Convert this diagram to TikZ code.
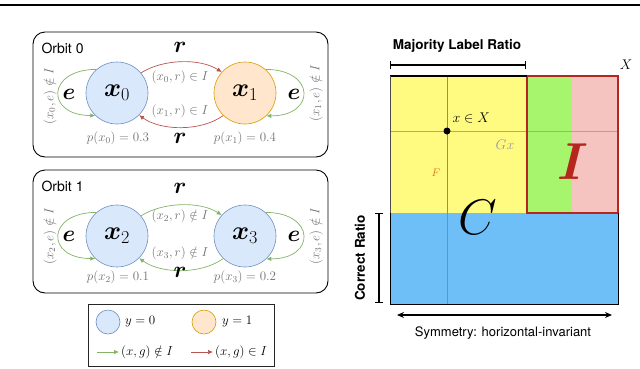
\RequirePackage{fix-cm}
\documentclass[tikz,border=0pt]{standalone}
\usepackage{amsmath}
\usepackage{fontspec}
\newfontfamily\helv{TeX Gyre Heros}
\usetikzlibrary{arrows.meta}

\definecolor{fillzero}{HTML}{DAE8FC}
\definecolor{drawzero}{HTML}{6C8EBF}
\definecolor{fillone}{HTML}{FFE6CC}
\definecolor{drawone}{HTML}{D79B00}
\definecolor{outgreen}{HTML}{82B366}
\definecolor{inred}{HTML}{B85450}
\definecolor{txtgray}{HTML}{707070}
\definecolor{regyellow}{HTML}{FFFA80}
\definecolor{reggreen}{HTML}{A6F56C}
\definecolor{regpink}{HTML}{F5C3C0}
\definecolor{regblue}{HTML}{6EBEF8}
\definecolor{regred}{HTML}{B5261E}
\definecolor{lineorange}{HTML}{E0761A}

\newcommand{\fsz}[1]{\fontsize{#1}{#1}\selectfont}

\tikzset{
  state/.style={circle, minimum size=62pt, inner sep=0pt, line width=0.6pt, font=\fsz{26}},
  yzero/.style={state, fill=fillzero, draw=drawzero},
  yone/.style={state, fill=fillone, draw=drawone},
  notin/.style={draw=outgreen, line width=0.7pt, -{Latex[length=5pt,width=4.5pt]}},
  isin/.style={draw=inred, line width=0.7pt, -{Latex[length=5pt,width=4.5pt]}},
  edgelbl/.style={text=txtgray, font=\fsz{13}, inner sep=1pt},
  biglbl/.style={font=\fsz{23}, inner sep=0pt},
  orbitbox/.style={rounded corners=12pt, line width=0.9pt},
  sidelbl/.style={font=\helv\bfseries\fsz{13.5}},
  bar/.style={line width=1.1pt, {Bar[width=8pt]}-{Bar[width=8pt]}}
}

\begin{document}
\begin{tikzpicture}[x=1pt,y=-1pt]
\useasboundingbox (0,0) rectangle (640,368);
\draw[line width=2pt] (0,5) -- (640,5);

% orbit 0
\draw[orbitbox] (33,32) rectangle (328,157);
\node[anchor=west, font=\helv\fsz{14}] (orb0) at (38,48) {Orbit 0};
\node[yzero] (x0) at (117,93) {$\boldsymbol{x}_0$};
\node[yone] (x1) at (245,93) {$\boldsymbol{x}_1$};
\draw[notin] (x0.131) .. controls +(-50,0) and +(-50,0) .. (x0.226);
\draw[notin] (x1.49) .. controls +(50,0) and +(50,0) .. (x1.313);
\draw[isin] (x0.40) .. controls +(22,-14) and +(-22,-14) .. (x1.138);
\draw[isin] (x1.226) .. controls +(-22,16) and +(22,16) .. (x0.315);
\node[biglbl] (e0) at (69,94) {$\boldsymbol{e}$};
\node[biglbl] (e1) at (294,94) {$\boldsymbol{e}$};
\node[biglbl] (r01) at (180,47) {$\boldsymbol{r}$};
\node[biglbl] (r10) at (180,138) {$\boldsymbol{r}$};
\node[edgelbl, rotate=90] (l00) at (50,96) {$(x_0,e)\notin I$};
\node[edgelbl, rotate=90] (l11) at (316,93) {$(x_1,e)\notin I$};
\node[edgelbl] (l01) at (180,77) {$(x_0,r)\in I$};
\node[edgelbl] (l10) at (180,111) {$(x_1,r)\in I$};
\node[edgelbl] (p0) at (118,138) {$p(x_0)=0.3$};
\node[edgelbl] (p1) at (245,138) {$p(x_1)=0.4$};

% orbit 1
\draw[orbitbox] (33,170) rectangle (328,293);
\node[anchor=west, font=\helv\fsz{14}] (orb1) at (38,186) {Orbit 1};
\node[yzero] (x2) at (117,236) {$\boldsymbol{x}_2$};
\node[yzero] (x3) at (245,236) {$\boldsymbol{x}_3$};
\draw[notin] (x2.131) .. controls +(-50,0) and +(-50,0) .. (x2.226);
\draw[notin] (x3.49) .. controls +(50,0) and +(50,0) .. (x3.313);
\draw[notin] (x2.40) .. controls +(22,-14) and +(-22,-14) .. (x3.138);
\draw[notin] (x3.226) .. controls +(-22,16) and +(22,16) .. (x2.315);
\node[biglbl] (e2) at (69,236) {$\boldsymbol{e}$};
\node[biglbl] (e3) at (294,236) {$\boldsymbol{e}$};
\node[biglbl] (r23) at (180,188) {$\boldsymbol{r}$};
\node[biglbl] (r32) at (180,272) {$\boldsymbol{r}$};
\node[edgelbl, rotate=90] (l22) at (50,236) {$(x_2,e)\notin I$};
\node[edgelbl, rotate=90] (l33) at (316,236) {$(x_3,e)\notin I$};
\node[edgelbl] (l23) at (180,216) {$(x_2,r)\notin I$};
\node[edgelbl] (l32) at (180,253) {$(x_3,r)\notin I$};
\node[edgelbl] (p2) at (118,277) {$p(x_2)=0.1$};
\node[edgelbl] (p3) at (245,277) {$p(x_3)=0.2$};

% legend
\draw[line width=0.9pt, black!85] (88,304) rectangle (274,366);
\node[yzero, minimum size=24pt] (lg0) at (108,322) {};
\node[anchor=west, font=\fsz{13}, inner sep=0pt] (lgt0) at (125,322) {$y=0$};
\node[yone, minimum size=24pt] (lg1) at (204,322) {};
\node[anchor=west, font=\fsz{13}, inner sep=0pt] (lgt1) at (222,322) {$y=1$};
\coordinate (ga) at (97,352);
\coordinate (gb) at (119,352);
\coordinate (ra) at (191,352);
\coordinate (rb) at (213,352);
\draw[notin] (ga) -- (gb);
\draw[isin] (ra) -- (rb);
\node[anchor=west, font=\fsz{13}, inner sep=0pt] (lgn) at (121,352) {$(x,g)\notin I$};
\node[anchor=west, font=\fsz{13}, inner sep=0pt] (lgi) at (215,352) {$(x,g)\in I$};

% space X
\fill[regyellow] (390,76) rectangle (527,213);
\fill[reggreen] (527,76) rectangle (572,213);
\fill[regpink] (572,76) rectangle (618,213);
\fill[regblue] (390,213) rectangle (618,304);
\draw[black!35, line width=0.8pt] (390,131) -- (618,131);
\draw[lineorange, line width=0.9pt] (447,76) -- (447,304);
\draw[regred, line width=1.1pt] (527,76) rectangle (618,213);
\draw[line width=1.3pt] (390,76) -- (527,76);
\draw[line width=0.9pt] (390,213) -- (390,304) -- (618,304) -- (618,213);
\draw[black!70, line width=0.9pt] (390,76) -- (390,213);
\fill (447,131) circle (3.5pt);
\node[font=\fsz{14}, anchor=west] (xin) at (449,118) {$x\in X$};
\node[font=\fsz{14}, text=black!40] (gx) at (505,145) {$Gx$};
\node[font=\fsz{11}, text=lineorange] (ff) at (436,173) {$F$};
\node[font=\fsz{52}, text=regred, inner sep=0pt] (ii) at (573,162) {$\boldsymbol{I}$};
\node[font=\fsz{50}, inner sep=0pt] (cc) at (478,217) {$C$};
\node[font=\fsz{14}] (xx) at (626,65) {$X$};

% ratios
\coordinate (ma) at (390,65);
\coordinate (mb) at (526,65);
\draw[bar] (ma) -- (mb);
\node[sidelbl] (maj) at (457,46) {Majority Label Ratio};
\coordinate (ca) at (379,213);
\coordinate (cb) at (379,303);
\draw[bar] (ca) -- (cb);
\node[sidelbl, rotate=90] (cor) at (360,258) {Correct Ratio};
\coordinate (sa) at (397,315);
\coordinate (sb) at (612,315);
\draw[line width=1.1pt, {Stealth[length=7pt,width=6pt]}-{Stealth[length=7pt,width=6pt]}] (sa) -- (sb);
\node[font=\helv\fsz{13}] (sym) at (503,333) {Symmetry: horizontal-invariant};
\end{tikzpicture}
\end{document}
